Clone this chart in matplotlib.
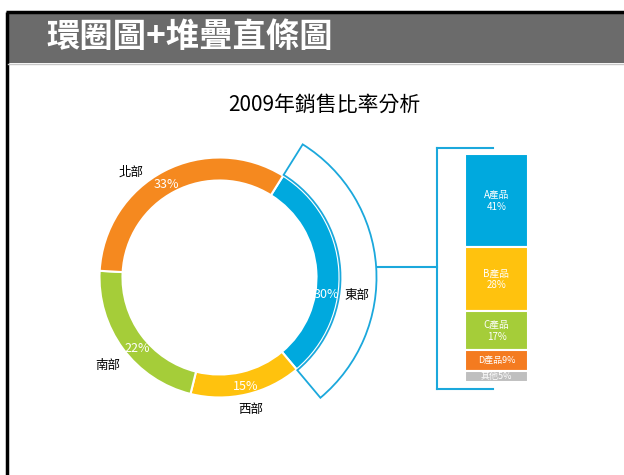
import numpy as np
import matplotlib.pyplot as plt
from matplotlib.patches import Wedge, Rectangle

plt.rcParams['font.family'] = ['Noto Sans CJK TC', 'DejaVu Sans']

# donut data (clockwise from the East slice)
regions = ['東部', '西部', '南部', '北部']
region_pct = [30, 15, 22, 33]
region_colors = ['#00a9de', '#ffc20e', '#a5cd39', '#f5891f']

# stacked bar data (breakdown of 東部)
products = ['A產品', 'B產品', 'C產品', 'D產品', '其他']
product_pct = [41, 28, 17, 9, 5]
product_colors = ['#00a9de', '#ffc20e', '#a5cd39', '#f47b20', '#bfbfbf']

W, H = 624, 475
fig = plt.figure(figsize=(W / 100, H / 100), dpi=100)
ax = fig.add_axes([0, 0, 1, 1])

# donut
cx, cy, r_out, ring = 219.5, H - 277.5, 120, 23
wedges, _ = ax.pie(region_pct, colors=region_colors, startangle=58, counterclock=False,
                   center=(cx, cy), radius=r_out, frame=True,
                   wedgeprops=dict(width=ring, edgecolor='white', linewidth=1.5))
ax.set_xlim(0, W)
ax.set_ylim(0, H)
ax.set_aspect('equal')
ax.axis('off')

# frame / header band
ax.add_patch(Rectangle((8, H - 63), W - 8, 50, facecolor='#6b6b6b', edgecolor='none'))
ax.plot([7, 7], [0, H - 12], color='black', lw=2.5, solid_capstyle='butt')
ax.plot([6, W], [H - 12, H - 12], color='black', lw=2.5, solid_capstyle='butt')
ax.plot([8, W], [H - 63.5, H - 63.5], color='#c8c8c8', lw=1)
ax.text(46, H - 37, '環圈圖+堆疊直條圖', color='white', fontsize=24, fontweight='bold',
        ha='left', va='center')

ax.text(324, H - 105, '2009年銷售比率分析', fontsize=15, ha='center', va='center')

# outline wedge around the East slice
east = wedges[0]
ax.add_patch(Wedge((cx, cy), 157, east.theta1, east.theta2, width=157 - r_out - 1,
                   facecolor='none', edgecolor='#1ba8dc', lw=1.3))

# labels (positions as laid out in the original)
pct_pos = {'東部': (326, 295), '西部': (246, 387), '南部': (137, 349), '北部': (166, 185)}
name_pos = {'東部': (357, 295), '西部': (251, 410), '南部': (108, 365), '北部': (131, 172)}
for name, pct in zip(regions, region_pct):
    x, y = pct_pos[name]
    ax.text(x, H - y, f'{pct}%', color='white', fontsize=9, ha='center', va='center')
    x, y = name_pos[name]
    ax.text(x, H - y, name, fontsize=9, ha='center', va='center')

# bracket linking the arc to the bar
blue = '#1ba8dc'
ax.plot([437, 437], [H - 148, H - 389], color=blue, lw=1.5)
ax.plot([437, 493], [H - 148, H - 148], color=blue, lw=1.5)
ax.plot([437, 493], [H - 389, H - 389], color=blue, lw=1.5)
ax.plot([cx + 157, 437], [H - 267, H - 267], color=blue, lw=1.5)

# stacked bar
bax = fig.add_axes([465 / W, (H - 382) / H, 63 / W, 228 / H])
bottom = 0
for name, pct, col in zip(products, product_pct, product_colors):
    bax.bar(0, pct, bottom=bottom, width=1, color=col, edgecolor='white', linewidth=1.5)
    mid = bottom + pct / 2
    if pct >= 15:
        bax.text(0, mid, f'{name}\n{pct}%', color='white', fontsize=7, ha='center',
                 va='center', linespacing=1.2)
    else:
        bax.text(0, mid, f'{name}{pct}%', color='white', fontsize=6.5, ha='center',
                 va='center')
    bottom += pct
bax.set_xlim(-0.5, 0.5)
bax.set_ylim(sum(product_pct), 0)
bax.axis('off')

fig.savefig('out.png', dpi=100)
